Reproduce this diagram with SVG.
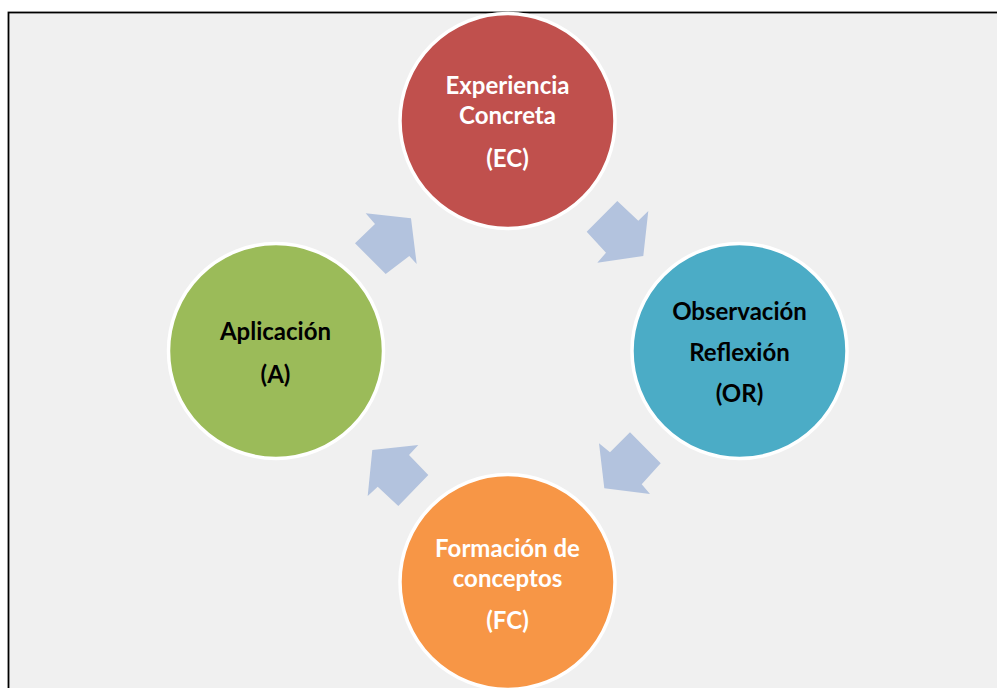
<svg xmlns="http://www.w3.org/2000/svg" width="997" height="688" viewBox="0 0 997 688">
<style>
.frame{fill:#f0f0f0;stroke:#000;stroke-width:1.8}
.node{stroke:#fff;stroke-width:3.5}
.arrow{fill:#b3c3de}
.t{font-family:Lato,"Liberation Sans",sans-serif;font-weight:bold;font-size:24px;text-anchor:middle}
.w{fill:#fff}
.k{fill:#000}
</style>
<rect width="997" height="688" fill="#fff"/>
<rect class="frame" x="8.5" y="12.5" width="1000" height="700"/>
<g id="connectors">
<polygon class="arrow" points="365.7,213.3 411,218.3 416.7,264 409.3,256 385.7,274 355,243.3 375,224"/>
<polygon class="arrow" points="617.3,201 638.3,220.7 648.3,211 643.3,256 597.3,262.7 606,252.7 586.7,231.7"/>
<polygon class="arrow" points="630,432.3 660.7,463.3 641.7,484.3 650,494 604.3,488.3 599,443.3 610,452.3"/>
<polygon class="arrow" points="418.3,445 409,455 428.3,475 398.3,506 377.7,486.7 367.7,496 372.3,450"/>
</g>
<g id="ec">
<circle class="node" cx="507.5" cy="121" r="107.5" fill="#c0504d"/>
<text class="t w" x="507.5" y="94">Experiencia</text>
<text class="t w" x="507.5" y="124">Concreta</text>
<text class="t w" x="507.5" y="167">(EC)</text>
</g>
<g id="or">
<circle class="node" cx="739.5" cy="351" r="107.5" fill="#4bacc6"/>
<text class="t k" x="739.5" y="320">Observación</text>
<text class="t k" x="739.5" y="361">Reflexión</text>
<text class="t k" x="739.5" y="402">(OR)</text>
</g>
<g id="fc">
<circle class="node" cx="507.5" cy="582" r="107.5" fill="#f79646"/>
<text class="t w" x="507.5" y="557">Formación de</text>
<text class="t w" x="507.5" y="587">conceptos</text>
<text class="t w" x="507.5" y="629">(FC)</text>
</g>
<g id="a">
<circle class="node" cx="276" cy="351" r="107.5" fill="#9bbb59"/>
<text class="t k" x="275.5" y="340">Aplicación</text>
<text class="t k" x="275.5" y="383">(A)</text>
</g>
</svg>
